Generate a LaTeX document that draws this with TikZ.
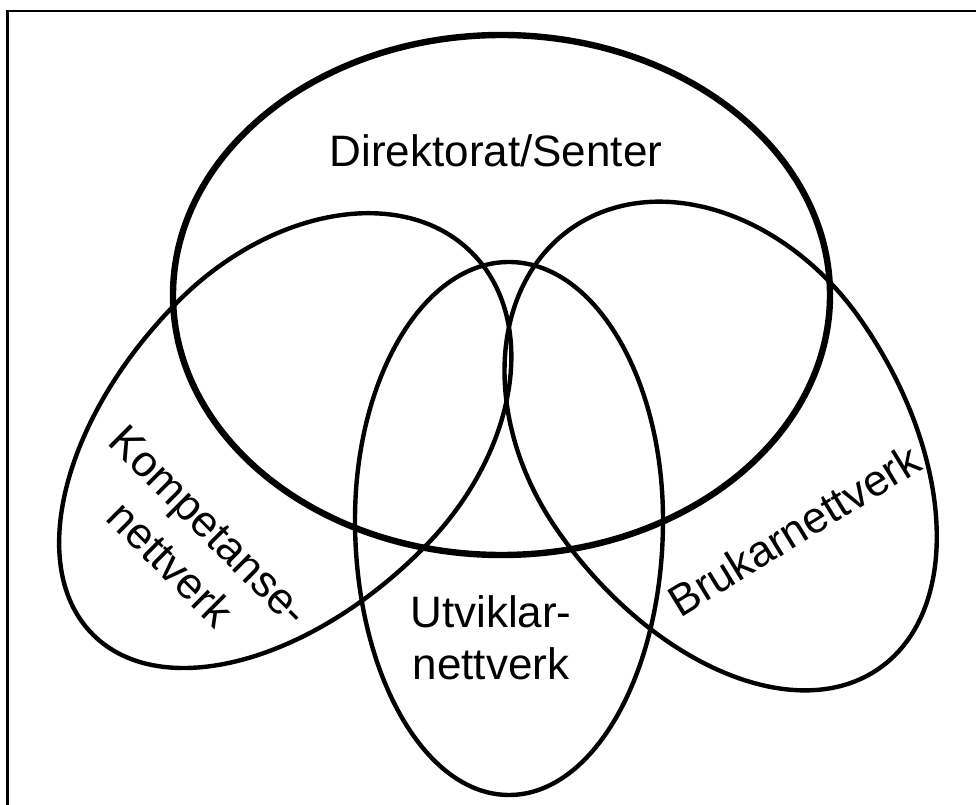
\documentclass[tikz,border=0pt]{standalone}
\usepackage{fontspec}
\setmainfont{Liberation Sans}
\newcommand{\eggpath}[3]{(-#1,0) .. controls (-#1,{-0.5523*#2}) and ({-0.5523*#1},-#2) .. (0,-#2) .. controls ({0.5523*#1},-#2) and (#1,{-0.5523*#2}) .. (#1,0) .. controls (#1,{0.5523*#3}) and ({0.5523*#1},#3) .. (0,#3) .. controls ({-0.5523*#1},#3) and (-#1,{0.5523*#3}) .. (-#1,0) -- cycle}
\begin{document}
\begin{tikzpicture}[x=0.75pt,y=-0.75pt,
  thinline/.style={line width=3.3pt},
  thickline/.style={line width=4.8pt},
  frameline/.style={line width=1.7pt},
  lbl/.style={font=\fontsize{33}{39}\selectfont, inner sep=0pt, align=center}]
\useasboundingbox (0,0) rectangle (976,805);
\draw[frameline] (976,11) -- (7.5,11) -- (7.5,805);
% big ellipse
\draw[thickline] (501.5,295) ellipse [x radius=246.375pt, y radius=195pt];
% middle egg
\begin{scope}[shift={(509,520)}]
  \draw[thinline] \eggpath{154}{258}{275};
\end{scope}
% left egg
\begin{scope}[shift={(300.5,425)}, rotate=-44.6]
  \draw[thinline] \eggpath{174}{243}{295};
\end{scope}
% right egg
\begin{scope}[shift={(709,425)}, rotate=35]
  \draw[thinline] \eggpath{184.6}{240}{297};
\end{scope}
\node[lbl, anchor=base] (dir) at (496,167) {Direktorat/Senter};
\node[lbl] (utv) at (491,638) {Utviklar-\\nettverk};
\node[lbl, rotate=-45, font=\fontsize{33}{41}\selectfont] (komp) at (190,545) {Kompetanse-\\nettverk};
\node[lbl, rotate=31.5] (bruk) at (794,530) {Brukarnettverk};
\end{tikzpicture}
\end{document}
